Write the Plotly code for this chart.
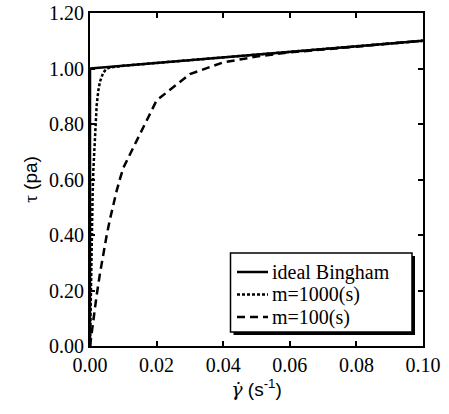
import plotly.graph_objects as go

# ---- data ----
bingham_x = [0.0, 0.0, 0.1]
bingham_y = [0.0, 1.0, 1.1]

m1000_x = [0.0, 0.0002, 0.0004, 0.0006, 0.0008, 0.001, 0.0015, 0.002, 0.0025,
           0.003, 0.004, 0.005, 0.006, 0.008, 0.01, 0.02, 0.03, 0.04, 0.05,
           0.06, 0.07, 0.08, 0.09, 0.1]
m1000_y = [0.0, 0.181, 0.330, 0.451, 0.551, 0.633, 0.778, 0.867, 0.920,
           0.953, 0.986, 0.998, 1.004, 1.008, 1.010, 1.020, 1.030, 1.040, 1.050,
           1.060, 1.070, 1.080, 1.090, 1.100]

m100_x = [0.0, 0.001, 0.002, 0.003, 0.004, 0.005, 0.006, 0.007, 0.008, 0.009,
          0.01, 0.02, 0.03, 0.04, 0.05, 0.06, 0.07, 0.08, 0.09, 0.1]
m100_y = [0.0, 0.096, 0.183, 0.262, 0.334, 0.398, 0.457, 0.510, 0.559, 0.602,
          0.642, 0.885, 0.980, 1.022, 1.043, 1.058, 1.069, 1.080, 1.090, 1.100]

series_names = ["ideal Bingham", "m=1000(s)", "m=100(s)"]

# ---- figure ----
W, H = 449, 414
L, R, T, B = 90, 26, 13, 68
pw, ph = W - L - R, H - T - B

def px2paper(px, py):
    return (px - L) / pw, (H - B - py) / ph

line_styles = [
    dict(color="black", width=2.5),
    dict(color="black", width=2.5, dash="3px,2px"),
    dict(color="black", width=2.5, dash="8px,5px"),
]

fig = go.Figure()
for xs, ys, name, ls in zip([bingham_x, m1000_x, m100_x],
                            [bingham_y, m1000_y, m100_y],
                            series_names, line_styles):
    fig.add_trace(go.Scatter(x=xs, y=ys, mode="lines", name=name, line=ls,
                             showlegend=False))

serif = "Liberation Serif, Times New Roman, serif"
sans = "Liberation Sans, Arial, sans-serif"

# legend box with drop shadow, drawn as a framed box in paper coordinates
x0, y1 = px2paper(230.5, 253)
x1, y0 = px2paper(412, 332)
sx0, sy1 = px2paper(233.5, 256)
sx1, sy0 = px2paper(415, 335)
shapes = [
    dict(type="rect", xref="paper", yref="paper", x0=sx0, x1=sx1, y0=sy0, y1=sy1,
         fillcolor="black", line=dict(width=0), layer="above"),
    dict(type="rect", xref="paper", yref="paper", x0=x0, x1=x1, y0=y0, y1=y1,
         fillcolor="white", line=dict(color="black", width=1.5), layer="above"),
]
annotations = []
item_rows = [272, 294.5, 317]
for name, ls, row in zip(series_names, line_styles, item_rows):
    lx0, ly = px2paper(237, row)
    lx1, _ = px2paper(268, row)
    shapes.append(dict(type="line", xref="paper", yref="paper",
                       x0=lx0, x1=lx1, y0=ly, y1=ly, line=ls, layer="above"))
    tx, _ = px2paper(270, row)
    annotations.append(dict(text=name, xref="paper", yref="paper", x=tx, y=ly,
                            xanchor="left", yanchor="middle", showarrow=False,
                            font=dict(family=serif, size=20, color="black")))

axis_common = dict(
    showline=True, linecolor="black", linewidth=2, mirror="ticks",
    ticks="inside", ticklen=5, tickwidth=1.5, tickcolor="black",
    showgrid=False, zeroline=False, tickformat=".2f", automargin=False,
    tickfont=dict(family=serif, size=20, color="black"),
)

fig.update_layout(
    width=W, height=H,
    margin=dict(l=L, r=R, t=T, b=B, autoexpand=False),
    paper_bgcolor="white", plot_bgcolor="white",
    showlegend=False,
    shapes=shapes,
    annotations=annotations,
    xaxis=dict(range=[0, 0.1], dtick=0.02, tick0=0,
               title=dict(text="<span style='font-family:DejaVu Serif'><i>γ̇</i></span> (s<sup>-1</sup>)",
                          font=dict(family=sans, size=19, color="black"), standoff=1),
               **axis_common),
    yaxis=dict(range=[0, 1.2], dtick=0.2, tick0=0,
               title=dict(text="<span style='font-family:Liberation Serif'>τ</span> (pa)",
                          font=dict(family=sans, size=19, color="black"), standoff=6),
               **axis_common),
)

fig.write_html("out.html", config={"displayModeBar": False},
               post_script="document.body.style.margin='0';")
